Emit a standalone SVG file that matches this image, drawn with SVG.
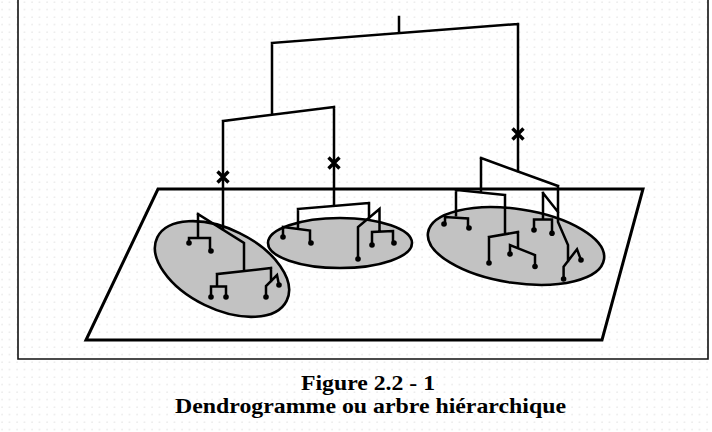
<svg xmlns="http://www.w3.org/2000/svg" width="712" height="432" viewBox="0 0 712 432">
<defs>
<pattern id="bg" width="7.5" height="7.5" patternUnits="userSpaceOnUse">
<circle cx="2" cy="2" r="0.7" fill="#dcdcdc"/>
</pattern>
<style>
.frame{fill:none;stroke:#111;stroke-width:1.6}
.plane{fill:none;stroke:#000;stroke-width:3;stroke-linejoin:miter}
.blob{fill:#c2c2c2;stroke:#000;stroke-width:2.6}
.ln{fill:none;stroke:#000;stroke-width:2.5;stroke-linejoin:miter;stroke-linecap:square}
.x{fill:none;stroke:#000;stroke-width:3.4}
.dot{fill:#000}
.cap{font-family:"Liberation Serif","Times New Roman",serif;font-weight:bold;fill:#000;text-anchor:middle}
</style>
</defs>
<rect width="712" height="432" fill="#fff"/>
<rect width="712" height="432" fill="url(#bg)"/>
<path class="frame" d="M18,0 V359 H708 V0"/>

<g id="plane">
<polygon class="plane" points="158,189 643,189 602,340 86,340"/>
</g>

<g id="cluster-1">
<ellipse class="blob" cx="222" cy="269" rx="72" ry="40" transform="rotate(26 222 269)"/>
<path class="ln" d="M198,214 L244,243 V271 M198,214 V238 M189,243 V238 H210 V251 M217,274 L271,268 M217,274 V286 M211,297 V286.5 H226 V297 M271,268 V281 M266,297 V286 L277,275 L279,285"/>
<g class="dot"><circle cx="189" cy="243" r="2.8"/><circle cx="211" cy="251" r="2.8"/><circle cx="211" cy="297" r="2.8"/><circle cx="226" cy="297" r="2.8"/><circle cx="266" cy="297" r="2.8"/><circle cx="279" cy="285" r="2.8"/></g>
</g>

<g id="cluster-2">
<ellipse class="blob" cx="340" cy="243" rx="72" ry="25"/>
<path class="ln" d="M298,209 L369,203 M298,209 V229 M283,237 V227 L310,230.5 V243 M369,203 V218 M358,259 V227 L379.5,209 V231 M372,245 V232 L393,231 V243"/>
<g class="dot"><circle cx="283" cy="237" r="2.8"/><circle cx="311" cy="243" r="2.8"/><circle cx="358" cy="259" r="2.8"/><circle cx="372" cy="245" r="2.8"/><circle cx="394" cy="243" r="2.8"/></g>
</g>

<g id="cluster-3">
<ellipse class="blob" cx="516" cy="246" rx="89" ry="37" transform="rotate(8.6 516 246)"/>
<path class="ln" d="M481,158 L558,186 M481,158 V192 M456,190 L505,195 M456,190 V215 M445,224 V217 L468,218.5 V228 M505,195 V233 M489,237 L518,232 M489,237 V263 M518,232 V248 M510,254 V245 L535,255 V266 M558,186 V222 L568,245 V261 M543,193 L558,212 M543,193 V219.5 M534,230 V219.5 H552 V233 M563.6,279 V266.7 L577,249.3 L581,260"/>
<g class="dot"><circle cx="444" cy="224" r="2.8"/><circle cx="469" cy="228" r="2.8"/><circle cx="489" cy="263" r="2.8"/><circle cx="510" cy="254" r="2.8"/><circle cx="535" cy="266.5" r="2.8"/><circle cx="534" cy="230" r="2.8"/><circle cx="552" cy="233.3" r="2.8"/><circle cx="563.6" cy="279" r="2.8"/><circle cx="581" cy="260" r="2.8"/></g>
</g>

<g id="connectors">
<path class="ln" d="M399,17 V33 M272,43 L518,24 M272,43 V113 M223,121 L334,107 M223,121 V229 M334,107 V205 M518,24 V171"/>
<path class="x" d="M217.5,171.5 L228.5,182.5 M228.5,171.5 L217.5,182.5 M328.5,157.5 L339.5,168.5 M339.5,157.5 L328.5,168.5 M512.5,128.5 L523.5,139.5 M523.5,128.5 L512.5,139.5"/>
</g>

<g id="caption">
<text class="cap" x="368" y="390" font-size="20" textLength="134" lengthAdjust="spacingAndGlyphs">Figure  2.2 - 1</text>
<text class="cap" x="370.5" y="413" font-size="20" textLength="391" lengthAdjust="spacingAndGlyphs">Dendrogramme ou arbre hiérarchique</text>
</g>
</svg>
